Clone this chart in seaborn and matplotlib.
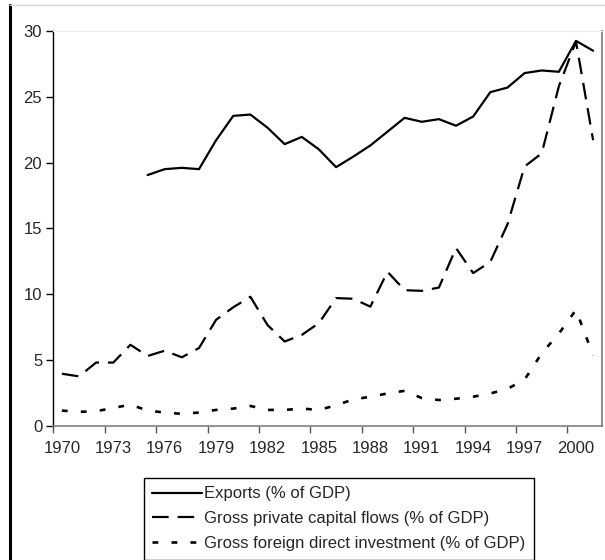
import matplotlib.pyplot as plt
import matplotlib as mpl
import numpy as np
import pandas as pd
import seaborn as sns

years = list(range(1970, 2002))

exports = [np.nan, np.nan, np.nan, np.nan, np.nan,
           19.05, 19.5, 19.6, 19.5, 21.7, 23.55, 23.65, 22.65, 21.4, 21.95,
           21.0, 19.65, 20.45, 21.3, 22.35, 23.4, 23.1, 23.3, 22.8, 23.5,
           25.35, 25.7, 26.8, 27.0, 26.9, 29.25, 28.5]
private_flows = [3.95, 3.75, 4.8, 4.8, 6.15, 5.3, 5.7, 5.2, 5.9, 8.05, 9.0, 9.8,
                 7.65, 6.4, 6.9, 7.8, 9.7, 9.65, 9.05, 11.7, 10.3, 10.25,
                 10.5, 13.5, 11.6, 12.45, 15.3, 19.7, 20.7, 25.8, 29.2, 21.7]
fdi = [1.15, 1.05, 1.1, 1.35, 1.6, 1.15, 1.0, 0.9, 1.0, 1.2, 1.3, 1.5,
       1.2, 1.2, 1.3, 1.2, 1.55, 2.0, 2.2, 2.45, 2.65, 2.1, 1.95, 2.05,
       2.2, 2.45, 2.8, 3.5, 5.5, 7.0, 8.8, 5.35]

names = ["Exports (% of GDP)",
         "Gross private capital flows (% of GDP)",
         "Gross foreign direct investment (% of GDP)"]

df = pd.DataFrame({"year": years, names[0]: exports,
                   names[1]: private_flows, names[2]: fdi})
long = df.melt(id_vars="year", var_name="series", value_name="value")

sns.set_style("ticks")
plt.rcParams['font.family'] = ['Liberation Sans', 'DejaVu Sans']
plt.rcParams['font.size'] = 12

fig = plt.figure(figsize=(6.05, 5.6), dpi=100)
ax = fig.add_axes([53.3 / 605, 1 - 425.7 / 560, (601.7 - 53.3) / 605, (425.7 - 31) / 560])

sns.lineplot(data=long, x="year", y="value", hue="series", style="series",
             hue_order=names, style_order=names,
             palette={n: "black" for n in names},
             dashes={names[0]: "", names[1]: (7.5, 4), names[2]: (2.2, 5)},
             linewidth=1.6, legend=False, ax=ax)
ax.lines[2].set_linewidth(1.9)

ax.set_xlim(1969.5, 2001.5)
ax.set_ylim(0, 30)
ax.set_xlabel("")
ax.set_ylabel("")

# ticks between categories, labels on categories
ax.set_xticks(np.arange(1969.5, 2001, 3))
ax.set_xticklabels([])
ax.set_xticks(np.arange(1970, 2001, 3), minor=True)
ax.set_xticklabels([str(y) for y in range(1970, 2001, 3)], minor=True)
ax.tick_params(axis="x", which="major", length=5, width=1, color="#555555", direction="out")
ax.tick_params(axis="x", which="minor", length=0, pad=11, labelsize=12)
ax.set_yticks(range(0, 31, 5))
ax.tick_params(axis="y", length=5, width=1, color="black", pad=3, labelsize=12)

ax.spines["left"].set_color("black")
ax.spines["left"].set_linewidth(1)
ax.spines["bottom"].set_color("#808080")
ax.spines["bottom"].set_linewidth(1.2)
ax.spines["right"].set_visible(True)
ax.spines["right"].set_color("#909090")
ax.spines["right"].set_linewidth(1.5)
ax.spines["top"].set_visible(True)
ax.spines["top"].set_color("#eeeeee")
ax.spines["top"].set_linewidth(0.8)

leg = ax.legend(handles=ax.lines[:3], labels=names, loc="upper left",
                bbox_to_anchor=(144 / 605, 1 - 478 / 560), bbox_transform=fig.transFigure,
                borderaxespad=0, fancybox=False, framealpha=1, edgecolor="black",
                handlelength=3.0, handletextpad=0.1, labelspacing=0.6,
                borderpad=0.5, fontsize=12)
leg.get_frame().set_linewidth(1.0)

# page-like borders around the figure
fig.add_artist(mpl.lines.Line2D([10 / 605, 10 / 605], [0, 1 - 5 / 560],
                                color="black", linewidth=2.2, transform=fig.transFigure))
fig.add_artist(mpl.lines.Line2D([10 / 605, 1], [1 - 5 / 560, 1 - 5 / 560],
                                color="#d8d8d8", linewidth=1.0, transform=fig.transFigure))

plt.savefig("out.png", dpi=100)
